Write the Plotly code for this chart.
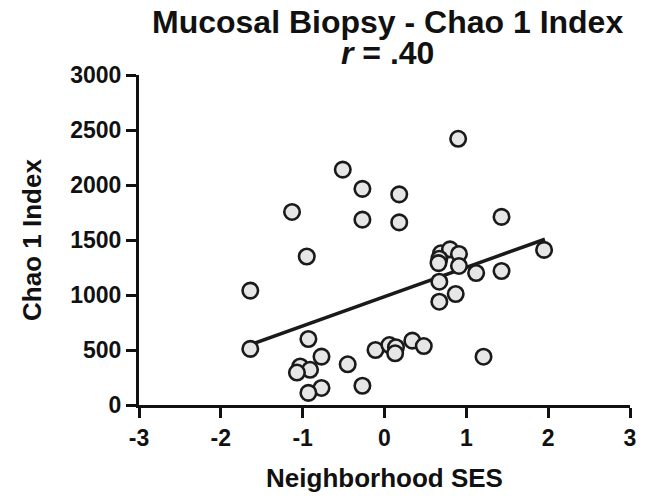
import plotly.graph_objects as go

# Data
ses_x = [-1.64, -1.64, -1.13, -0.95, -0.93, -0.77, -1.03, -0.91, -1.07, -0.77,
         -0.93, -0.45, -0.27, -0.51, -0.27, -0.27, 0.18, 0.18, -0.11, 0.06,
         0.14, 0.13, 0.34, 0.48, 0.90, 0.69, 0.80, 0.91, 0.67, 0.66,
         0.91, 1.12, 1.43, 1.43, 1.95, 0.67, 0.87, 0.67, 1.21]
chao1_y = [1040, 510, 1755, 1350, 600, 440, 350, 320, 295, 155,
           110, 370, 175, 2140, 1965, 1685, 1915, 1660, 500, 545,
           525, 470, 585, 536, 2420, 1379, 1415, 1373, 1330, 1290,
           1264, 1200, 1218, 1710, 1410, 1121, 1009, 939, 439]

fit_x = [-1.62, 1.96]
fit_y = [553, 1507]

x_ticks = [-3, -2, -1, 0, 1, 2, 3]
y_ticks = [0, 500, 1000, 1500, 2000, 2500, 3000]

title_line1 = "Mucosal Biopsy - Chao 1 Index"
title_line2 = "<i>r</i> = .40"

FONT = "Liberation Sans, Arial, Helvetica, sans-serif"
INK = "#111111"

PLOT_L, PLOT_R, PLOT_T, PLOT_B = 139, 636, 75, 405

def px_to_paper_x(px):
    return (px - PLOT_L) / (PLOT_R - PLOT_L)

def px_to_paper_y(py):
    return (PLOT_B - py) / (PLOT_B - PLOT_T)

fig = go.Figure()
fig.add_trace(go.Scatter(
    x=fit_x, y=fit_y, mode="lines",
    line=dict(color="#1a1a1a", width=3.5),
    hoverinfo="skip", showlegend=False,
))
fig.add_trace(go.Scatter(
    x=ses_x, y=chao1_y, mode="markers",
    marker=dict(size=15.5, color="#e6e6e6",
                line=dict(color="#1a1a1a", width=2.6)),
    showlegend=False,
))

title_font = dict(family=FONT, size=32, color=INK, weight="bold")
fig.update_layout(
    width=647, height=501,
    margin=dict(l=PLOT_L, r=647 - PLOT_R, t=PLOT_T, b=501 - PLOT_B),
    paper_bgcolor="white", plot_bgcolor="white",
    font=dict(family=FONT, color=INK),
    annotations=[
        dict(text=title_line1, xref="paper", yref="paper",
             x=px_to_paper_x(391), y=px_to_paper_y(22),
             xanchor="center", yanchor="middle",
             showarrow=False, font=title_font),
        dict(text=title_line2, xref="paper", yref="paper",
             x=px_to_paper_x(391), y=px_to_paper_y(53),
             xanchor="center", yanchor="middle",
             showarrow=False, font=title_font),
    ],
)

axis_common = dict(
    showgrid=False, zeroline=False,
    showline=True, linecolor=INK, linewidth=3,
    ticks="outside", ticklen=10, tickwidth=3, tickcolor=INK,
    tickfont=dict(family=FONT, size=23, color=INK, weight="bold"),
)

fig.update_xaxes(
    range=[-3, 3], tickvals=x_ticks, ticktext=[str(v) for v in x_ticks],
    title=dict(text="Neighborhood SES",
               font=dict(family=FONT, size=26, color=INK, weight="bold"),
               standoff=20),
    **axis_common,
)
fig.update_yaxes(
    range=[0, 3000], tickvals=y_ticks, ticktext=[str(v) for v in y_ticks],
    title=dict(text="Chao 1 Index",
               font=dict(family=FONT, size=26, color=INK, weight="bold"),
               standoff=22),
    ticklabelstandoff=0,
    **axis_common,
)

fig.write_html("out.html")
